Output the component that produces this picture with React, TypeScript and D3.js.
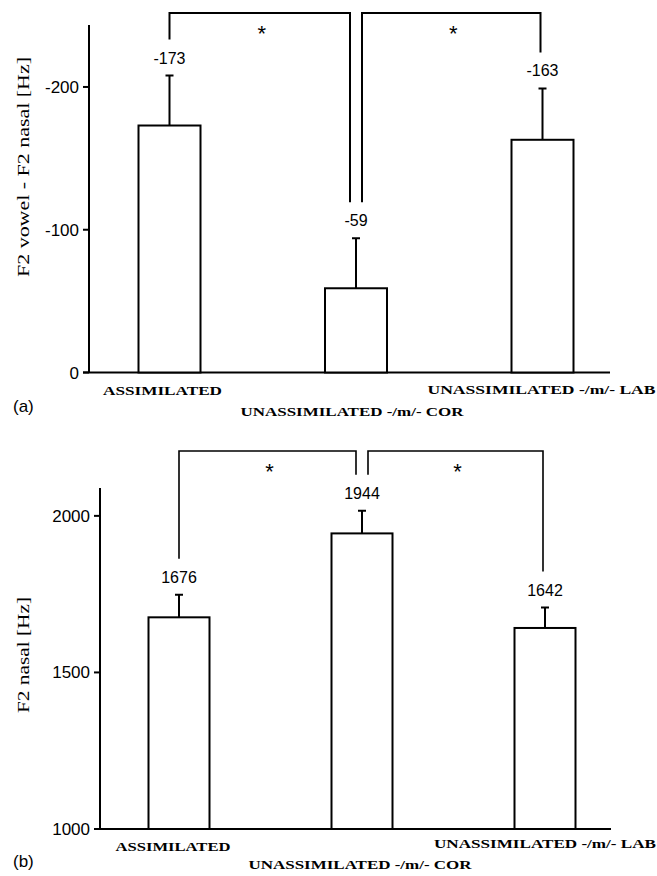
import React, { useEffect, useRef } from 'react';
import * as d3 from 'd3';

// bar categories (same for both panels)
const categories = ['ASSIMILATED', 'UNASSIMILATED -/m/- COR', 'UNASSIMILATED -/m/- LAB'];

// (a) F2 vowel - F2 nasal
const diffMeans = [-173, -59, -163];
const diffSD = [35, 35, 36];
const diffTicks = [0, -100, -200];

// (b) F2 nasal
const nasalMeans = [1676, 1944, 1642];
const nasalSD = [72, 72, 65];
const nasalTicks = [1000, 1500, 2000];

// significant pairs (index into categories)
const sigPairs: [number, number][] = [[0, 1], [1, 2]];

const W = 657;
const H = 876;
const SANS = '"Liberation Sans", Arial, sans-serif';
const SERIF = '"Liberation Serif", "Times New Roman", serif';

type Panel = {
    tag: string;
    title: string;
    titleLen: number;
    titleY: number;
    means: number[];
    sds: number[];
    ticks: number[];
    domain: [number, number];
    yPix: [number, number];
    axisX: number;
    xAxis: [number, number];
    centers: [number, number];
    barW: number;
    bracketY: number;
    bracketW: number;
    tagY: number;
    labelLens: number[];
    labelDx: number[];
    labelDy: number[];
};

const panels: Panel[] = [
    {
        tag: '(a)',
        title: 'F2 vowel - F2 nasal  [Hz]',
        titleLen: 220,
        titleY: 167,
        means: diffMeans,
        sds: diffSD,
        ticks: diffTicks,
        domain: [0, -243.4],
        yPix: [372.5, 25],
        axisX: 89,
        xAxis: [83, 610],
        centers: [169.5, 542.5],
        barW: 62,
        bracketY: 13,
        bracketW: 2,
        tagY: 412,
        labelLens: [119, 223, 228],
        labelDx: [-7, -4, -1],
        labelDy: [22, 43, 21]
    },
    {
        tag: '(b)',
        title: 'F2 nasal  [Hz]',
        titleLen: 116,
        titleY: 655,
        means: nasalMeans,
        sds: nasalSD,
        ticks: nasalTicks,
        domain: [1000, 2089],
        yPix: [829, 488],
        axisX: 100,
        xAxis: [95, 611],
        centers: [179, 545],
        barW: 61,
        bracketY: 451,
        bracketW: 1.6,
        tagY: 867,
        labelLens: [115, 223, 222],
        labelDx: [-6, -2, 0],
        labelDy: [22, 40, 19]
    }
];

function drawPanel(svg: any, p: Panel) {
    const g = svg.append('g');
    const y = d3.scaleLinear().domain(p.domain).range(p.yPix);
    const x = d3.scalePoint<string>().domain(categories).range(p.centers);
    const base = y(p.domain[0]);

    // axes
    g.append('line')
        .attr('x1', p.axisX).attr('x2', p.axisX)
        .attr('y1', p.yPix[1]).attr('y2', base)
        .attr('stroke', '#000').attr('stroke-width', 2);
    g.append('line')
        .attr('x1', p.xAxis[0]).attr('x2', p.xAxis[1])
        .attr('y1', base).attr('y2', base)
        .attr('stroke', '#000').attr('stroke-width', 2);

    const ticks = g.selectAll('g.tick').data(p.ticks).join('g').attr('class', 'tick');
    ticks.append('line')
        .attr('x1', p.axisX - 6).attr('x2', p.axisX)
        .attr('y1', (d) => y(d)).attr('y2', (d) => y(d))
        .attr('stroke', '#000').attr('stroke-width', 2);
    ticks.append('text')
        .attr('x', p.axisX - 10)
        .attr('y', (d) => y(d) + 6)
        .attr('text-anchor', 'end')
        .attr('font-family', SANS)
        .attr('font-size', 17)
        .text((d) => d);

    // y title
    g.append('text')
        .attr('transform', `translate(29, ${p.titleY}) rotate(-90)`)
        .attr('text-anchor', 'middle')
        .attr('font-family', SERIF)
        .attr('font-size', 16)
        .attr('textLength', p.titleLen)
        .attr('lengthAdjust', 'spacingAndGlyphs')
        .text(p.title);

    const data = categories.map((c, i) => ({ c, i, m: p.means[i], sd: p.sds[i] }));
    // error bars point away from the baseline
    const errTop = (d) => y(d.m + Math.sign(d.m - p.domain[0]) * d.sd);
    const labelY = (d) => errTop(d) - 18;

    // bars
    g.selectAll('rect.bar').data(data).join('rect')
        .attr('class', 'bar')
        .attr('x', (d) => x(d.c) - p.barW / 2)
        .attr('y', (d) => y(d.m))
        .attr('width', p.barW)
        .attr('height', (d) => base - y(d.m))
        .attr('fill', '#fff')
        .attr('stroke', '#000')
        .attr('stroke-width', 2);

    // error bars (upper only)
    g.selectAll('path.err').data(data).join('path')
        .attr('class', 'err')
        .attr('d', (d) => {
            const cx = x(d.c);
            return `M${cx},${y(d.m)}V${errTop(d)}M${cx - 4},${errTop(d)}H${cx + 4}`;
        })
        .attr('fill', 'none')
        .attr('stroke', '#000')
        .attr('stroke-width', 2);

    // value labels
    g.selectAll('text.val').data(data).join('text')
        .attr('class', 'val')
        .attr('x', (d) => x(d.c))
        .attr('y', (d) => labelY(d) + 6)
        .attr('text-anchor', 'middle')
        .attr('font-family', SANS)
        .attr('font-size', 16)
        .text((d) => d.m);

    // category labels
    g.selectAll('text.cat').data(data).join('text')
        .attr('class', 'cat')
        .attr('x', (d) => x(d.c) + p.labelDx[d.i])
        .attr('y', (d) => base + p.labelDy[d.i])
        .attr('text-anchor', 'middle')
        .attr('font-family', SERIF)
        .attr('font-weight', 'bold')
        .attr('font-size', 13)
        .attr('textLength', (d) => p.labelLens[d.i])
        .attr('lengthAdjust', 'spacingAndGlyphs')
        .text((d) => d.c);

    // significance brackets
    sigPairs.forEach(([a, b]) => {
        const da = data[a];
        const db = data[b];
        // middle bar has two legs side by side
        const xa = a === 1 ? x(da.c) + 6 : x(da.c);
        const xb = b === 1 ? x(db.c) - 6 : x(db.c) - 2;
        const ya = labelY(da) - 18;
        const yb = labelY(db) - 18;
        g.append('path')
            .attr('d', `M${xa},${ya}V${p.bracketY}H${xb}V${yb}`)
            .attr('fill', 'none')
            .attr('stroke', '#000')
            .attr('stroke-width', p.bracketW);
        g.append('text')
            .attr('x', (xa + xb) / 2 + 2)
            .attr('y', p.bracketY + 28)
            .attr('text-anchor', 'middle')
            .attr('font-family', SANS)
            .attr('font-size', 22)
            .text('*');
    });

    // panel tag
    g.append('text')
        .attr('x', 13)
        .attr('y', p.tagY)
        .attr('font-family', SANS)
        .attr('font-size', 17)
        .text(p.tag);
}

export default function App() {
    const ref = useRef<SVGSVGElement>(null);

    useEffect(() => {
        const svg = d3.select(ref.current);
        svg.selectAll('*').remove();
        panels.forEach((p) => drawPanel(svg, p));
    }, []);

    return (
        <svg
            ref={ref}
            width={W}
            height={H}
            viewBox={`0 0 ${W} ${H}`}
            style={{ position: 'absolute', left: 0, top: 0, background: '#fff' }}
        />
    );
}
